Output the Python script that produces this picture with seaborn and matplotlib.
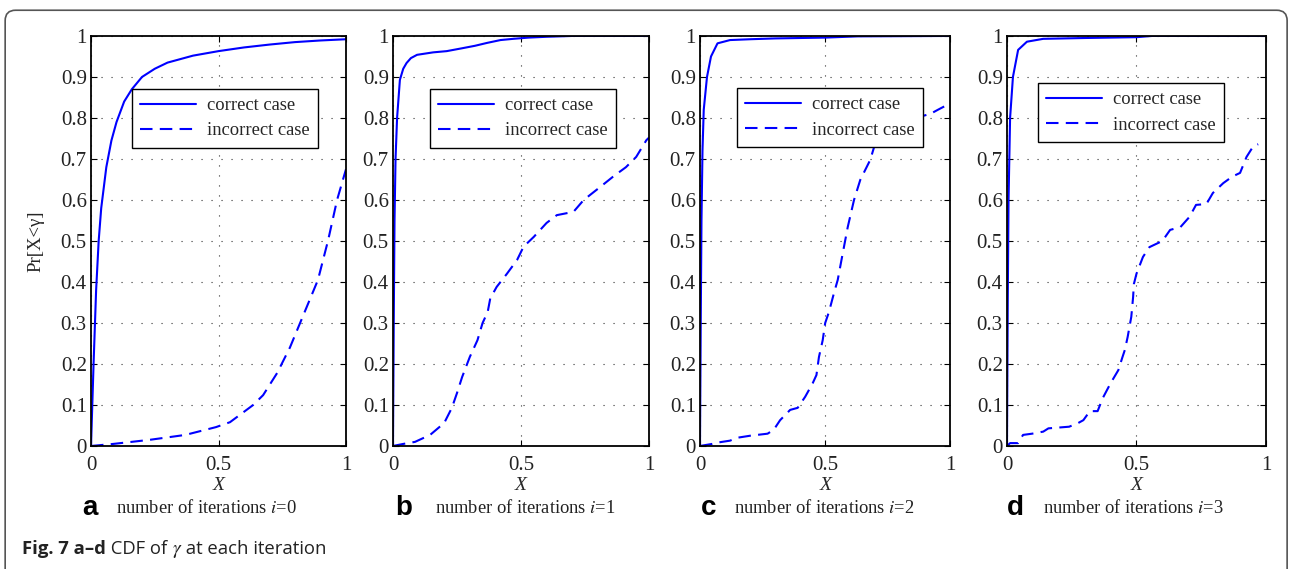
import numpy as np
import pandas as pd
import seaborn as sns
import matplotlib.pyplot as plt
from matplotlib.patches import FancyBboxPatch
from matplotlib.ticker import FormatStrFormatter

# Data

a_cor_x = [0, 0.005, 0.01, 0.02, 0.03, 0.04, 0.06, 0.08, 0.1, 0.13, 0.16, 0.2, 0.25, 0.3, 0.4, 0.5, 0.6, 0.7, 0.8, 0.9, 1.0]
a_cor_y = [0, 0.1, 0.2, 0.38, 0.5, 0.58, 0.68, 0.745, 0.79, 0.84, 0.87, 0.9, 0.92, 0.935, 0.952, 0.963, 0.972, 0.979, 0.985, 0.989, 0.992]
a_inc_x = [0, 0.087, 0.23, 0.37, 0.49, 0.545, 0.636, 0.675, 0.73, 0.78, 0.83, 0.89, 0.93, 0.965, 1.0]
a_inc_y = [0, 0.005, 0.015, 0.027, 0.046, 0.058, 0.1, 0.124, 0.178, 0.24, 0.315, 0.405, 0.502, 0.6, 0.675]

b_cor_x = [0, 0.003, 0.006, 0.01, 0.016, 0.027, 0.04, 0.053, 0.07, 0.094, 0.157, 0.21, 0.27, 0.32, 0.367, 0.42, 0.47, 0.53, 0.6, 0.7, 1.0]
b_cor_y = [0, 0.3, 0.55, 0.7, 0.8, 0.893, 0.92, 0.934, 0.946, 0.954, 0.96, 0.963, 0.97, 0.976, 0.983, 0.99, 0.993, 0.996, 0.998, 1.0, 1.0]
b_inc_x = [0, 0.04, 0.086, 0.145, 0.2, 0.23, 0.25, 0.27, 0.3, 0.33, 0.35, 0.37, 0.38, 0.405, 0.445, 0.485, 0.51, 0.55, 0.6, 0.64, 0.705, 0.745, 0.81, 0.86, 0.91, 0.95, 0.99, 1.0]
b_inc_y = [0, 0.005, 0.01, 0.027, 0.056, 0.093, 0.129, 0.168, 0.217, 0.258, 0.3, 0.327, 0.36, 0.388, 0.42, 0.454, 0.486, 0.51, 0.544, 0.563, 0.571, 0.6, 0.632, 0.657, 0.68, 0.705, 0.746, 0.752]

c_cor_x = [0, 0.003, 0.006, 0.01, 0.015, 0.028, 0.044, 0.07, 0.12, 0.2, 0.3, 0.4, 0.5, 0.63, 1.0]
c_cor_y = [0, 0.3, 0.55, 0.72, 0.82, 0.9, 0.95, 0.982, 0.99, 0.992, 0.994, 0.995, 0.996, 0.999, 1.0]
c_inc_x = [0, 0.048, 0.067, 0.12, 0.148, 0.2, 0.27, 0.295, 0.32, 0.36, 0.39, 0.42, 0.45, 0.465, 0.475, 0.49, 0.5, 0.515, 0.535, 0.55, 0.57, 0.59, 0.615, 0.64, 0.68, 0.7, 0.75, 0.8, 0.86, 0.92, 0.95, 1.0]
c_inc_y = [0, 0.005, 0.008, 0.013, 0.02, 0.025, 0.03, 0.04, 0.063, 0.088, 0.093, 0.12, 0.153, 0.173, 0.217, 0.258, 0.3, 0.327, 0.373, 0.405, 0.47, 0.534, 0.6, 0.649, 0.698, 0.739, 0.77, 0.79, 0.8, 0.81, 0.82, 0.836]

d_cor_x = [0, 0.003, 0.006, 0.012, 0.023, 0.043, 0.077, 0.14, 0.3, 0.5, 0.56, 1.0]
d_cor_y = [0, 0.35, 0.6, 0.8, 0.9, 0.966, 0.986, 0.993, 0.995, 0.997, 1.0, 1.0]
d_inc_x = [0, 0.012, 0.043, 0.062, 0.097, 0.14, 0.16, 0.24, 0.275, 0.295, 0.32, 0.35, 0.37, 0.4, 0.43, 0.445, 0.455, 0.466, 0.48, 0.487, 0.49, 0.5, 0.525, 0.55, 0.6, 0.63, 0.67, 0.705, 0.73, 0.77, 0.795, 0.835, 0.87, 0.9, 0.925, 0.95, 0.97]
d_inc_y = [0, 0.007, 0.007, 0.027, 0.03, 0.035, 0.043, 0.047, 0.056, 0.063, 0.085, 0.085, 0.117, 0.153, 0.185, 0.215, 0.234, 0.266, 0.315, 0.363, 0.395, 0.42, 0.461, 0.485, 0.5, 0.527, 0.534, 0.559, 0.588, 0.59, 0.617, 0.641, 0.657, 0.666, 0.705, 0.73, 0.736]

panel_letters = ["a", "b", "c", "d"]
panel_iters = ["0", "1", "2", "3"]

# Layout (figure fractions) and legend anchors (axes fractions)
W, H = 1291, 569
axes_pos = [
    [0.0705, 0.2162, 0.1975, 0.7206],
    [0.3044, 0.2162, 0.1983, 0.7206],
    [0.5422, 0.2162, 0.1940, 0.7206],
    [0.7800, 0.2162, 0.2006, 0.7206],
]
legend_anchor = [(0.16, 0.871), (0.145, 0.871), (0.147, 0.873), (0.12, 0.885)]
letter_px = [82, 395, 701, 1007]
sub_px = [116, 435, 734, 1043]

sns.set_style("ticks")
plt.rcParams["font.family"] = ["Liberation Serif", "DejaVu Serif"]
plt.rcParams["mathtext.fontset"] = "stix"

fig = plt.figure(figsize=(W / 100, H / 100), dpi=100)

# rounded border around the figure (bottom runs off the image)
border = FancyBboxPatch((0.004, -0.05), 0.993, 1.032, boxstyle="round,pad=0,rounding_size=0.008",
                        transform=fig.transFigure, fill=False, edgecolor="#555555", linewidth=1.2,
                        mutation_aspect=W / H)
fig.patches.append(border)

series = [
    (a_cor_x, a_cor_y, a_inc_x, a_inc_y),
    (b_cor_x, b_cor_y, b_inc_x, b_inc_y),
    (c_cor_x, c_cor_y, c_inc_x, c_inc_y),
    (d_cor_x, d_cor_y, d_inc_x, d_inc_y),
]

for i, (cx, cy, ix, iy) in enumerate(series):
    ax = fig.add_axes(axes_pos[i])
    cor = pd.DataFrame({"x": cx, "y": cy})
    inc = pd.DataFrame({"x": ix, "y": iy})
    sns.lineplot(data=cor, x="x", y="y", ax=ax, color="#0000ff", linewidth=1.5,
                 label="correct case", sort=False, estimator=None)
    sns.lineplot(data=inc, x="x", y="y", ax=ax, color="#0000ff", linewidth=1.5,
                 linestyle=(0, (6, 3.5)), label="incorrect case", sort=False, estimator=None)

    ax.set_xlim(0, 1)
    ax.set_ylim(0, 1)
    ax.set_xticks([0, 0.5, 1])
    ax.set_yticks(np.arange(0, 1.01, 0.1))
    ax.xaxis.set_major_formatter(FormatStrFormatter("%g"))
    ax.yaxis.set_major_formatter(FormatStrFormatter("%g"))
    ax.tick_params(direction="in", top=True, right=True, length=4, width=0.8,
                   labelsize=15, colors="black")
    ax.tick_params(axis="x", pad=7)
    ax.tick_params(axis="y", pad=3)
    for tl in ax.get_xticklabels() + ax.get_yticklabels():
        tl.set_color("#222222")
    ax.grid(True, linestyle=(0, (1, 8)), color="#333333", linewidth=0.8)
    for s in ax.spines.values():
        s.set_visible(True)
        s.set_linewidth(1.3)
        s.set_color("black")

    ax.set_xlabel("X", fontsize=14, fontstyle="italic", labelpad=2)
    if i == 0:
        ax.set_ylabel("Pr[X<γ]", fontsize=13.5, labelpad=12)
    else:
        ax.set_ylabel("")

    leg = ax.legend(loc="upper left", bbox_to_anchor=legend_anchor[i], borderaxespad=0,
                    fancybox=False, framealpha=1, edgecolor="black", fontsize=13.3,
                    handlelength=3.0, borderpad=0.45, labelspacing=0.45, handletextpad=0.6)
    leg.get_frame().set_linewidth(1.0)

    # panel label below the axes
    fig.text(letter_px[i] / W, 0.107, panel_letters[i], fontsize=20, fontweight="bold",
             family=["Liberation Sans", "DejaVu Sans"], va="center", ha="left", color="black")
    fig.text(sub_px[i] / W, 0.107, "number of iterations $i$=" + panel_iters[i], fontsize=13.3,
             va="center", ha="left", color="#222222")

cap = fig.text(0.017, 0.026, "Fig. 7 a–d", fontsize=13.3, fontweight="bold",
               family=["Open Sans", "DejaVu Sans"], va="baseline", ha="left", color="#222222")
t2 = plt.annotate(" CDF of ", xy=(1, 0), xycoords=cap, va="bottom", ha="left",
                  fontsize=13.3, family=["Open Sans", "DejaVu Sans"], color="#222222",
                  annotation_clip=False)
plt.annotate("$\\gamma$", xy=(1, 0), xycoords=t2, xytext=(0, -1), textcoords="offset points",
             va="bottom", ha="left", fontsize=14, color="#222222", annotation_clip=False)
plt.annotate(" at each iteration", xy=(1, 0), xycoords=t2, xytext=(7, 0), textcoords="offset points",
             va="bottom", ha="left", fontsize=13.3, family=["Open Sans", "DejaVu Sans"],
             color="#222222", annotation_clip=False)

plt.savefig("out.png", dpi=100)
